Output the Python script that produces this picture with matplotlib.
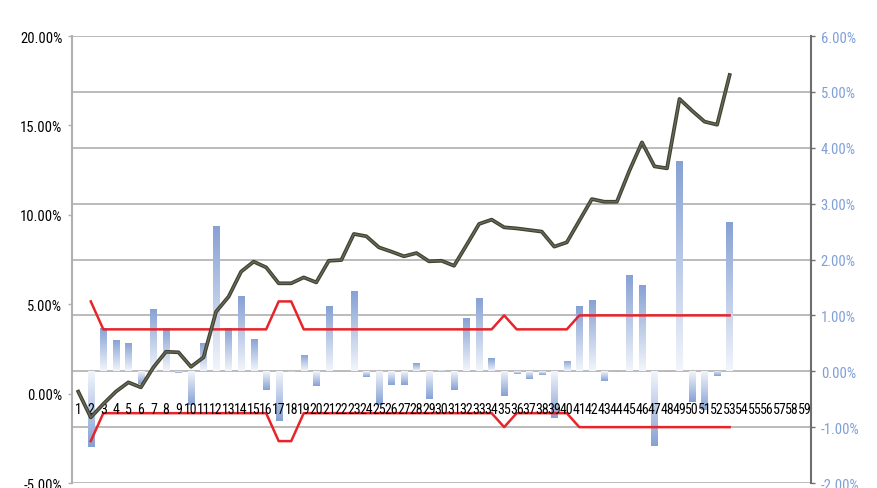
import numpy as np
import matplotlib
matplotlib.use("Agg")
import matplotlib.pyplot as plt
import matplotlib.patheffects as pe
from matplotlib.colors import LinearSegmentedColormap

plt.rcParams['font.family'] = ['Roboto Condensed', 'DejaVu Sans Condensed', 'Liberation Sans Narrow',
                               'Liberation Sans', 'DejaVu Sans']

# category labels on the x axis
categories = list(range(1, 60))

# cumulative line, left axis (%)
line_cats = list(range(1, 54))
line_vals = [0.11, -1.33, -0.58, 0.11, 0.63, 0.35, 1.47, 2.34, 2.31, 1.50,
             2.03, 4.58, 5.42, 6.82, 7.38, 7.06, 6.17, 6.17, 6.50, 6.22,
             7.43, 7.47, 8.93, 8.80, 8.18, 7.94, 7.68, 7.86, 7.40, 7.43,
             7.15, 8.31, 9.49, 9.73, 9.30, 9.24, 9.15, 9.06, 8.22, 8.46,
             9.67, 10.88, 10.73, 10.73, 12.47, 14.05, 12.71, 12.60, 16.48, 15.82,
             15.21, 15.04, 17.82]

# bars, right axis (%)
bar_cats = list(range(2, 54))
bar_vals = [-1.36, 0.77, 0.56, 0.51, -0.22, 1.11, 0.78, -0.03, -0.60,
            0.50, 2.60, 0.78, 1.34, 0.58, -0.33, -0.89, -0.01, 0.29, -0.26,
            1.16, 0.01, 1.43, -0.10, -0.61, -0.24, -0.24, 0.14, -0.49, 0.02,
            -0.33, 0.95, 1.31, 0.23, -0.45, -0.05, -0.14, -0.07, -0.83, 0.18,
            1.16, 1.28, -0.17, -0.02, 1.72, 1.54, -1.34, -0.02, 3.77, -0.55,
            -0.70, -0.09, 2.68]

# red band, right axis (%)
band_upper = [1.25, 0.75, 0.75, 0.75, 0.75, 0.75, 0.75, 0.75, 0.75, 0.75,
              0.75, 0.75, 0.75, 0.75, 0.75, 1.25, 1.25, 0.75, 0.75, 0.75,
              0.75, 0.75, 0.75, 0.75, 0.75, 0.75, 0.75, 0.75, 0.75, 0.75,
              0.75, 0.75, 0.75, 1.00, 0.75, 0.75, 0.75, 0.75, 0.75, 1.00,
              1.00, 1.00, 1.00, 1.00, 1.00, 1.00, 1.00, 1.00, 1.00, 1.00,
              1.00, 1.00]
band_lower = [-v for v in band_upper]

left_ticks = [-5, 0, 5, 10, 15, 20]
right_ticks = [-2, -1, 0, 1, 2, 3, 4, 5, 6]

fig = plt.figure(figsize=(8.77, 4.89), dpi=100)
ax = fig.add_axes([0.0821, 0.0102, 0.8427, 0.9141])
ax2 = ax.twinx()

# right axis: grid, bars, band
ax2.set_ylim(-2, 6)
ax2.set_yticks(right_ticks)
ax2.set_yticklabels([f"{t:.2f}%" for t in right_ticks])
ax2.yaxis.grid(True, color='#b5b5b5', lw=1.3)
ax2.set_axisbelow(True)

cmap = LinearSegmentedColormap.from_list('barfade', ['#f2f5fb', '#86a1d4'])
grad = np.linspace(0, 1, 100).reshape(-1, 1)
w = 0.5
for x, v in zip(bar_cats, bar_vals):
    rect = ax2.bar(x, v, width=w, color='none', edgecolor='none', zorder=2)[0]
    im = ax2.imshow(grad, cmap=cmap, extent=[x - w / 2, x + w / 2, 0, v],
                    origin='lower', aspect='auto', zorder=2, interpolation='bilinear')
    im.set_clip_path(rect)

ax2.plot(bar_cats, band_upper, color='#e8242a', lw=1.8, zorder=3)
ax2.plot(bar_cats, band_lower, color='#e8242a', lw=1.8, zorder=3)

# left axis: cumulative line
ax.set_zorder(ax2.get_zorder() + 1)
ax.patch.set_visible(False)
ax.plot(line_cats, line_vals, color='#6a6b56', lw=1.0, zorder=4,
        path_effects=[pe.Stroke(linewidth=2.7, foreground='#404133'), pe.Normal()])
ax.set_ylim(-5, 20)
ax.set_yticks(left_ticks)
ax.set_yticklabels([f"{t:.2f}%" for t in left_ticks])

ax.set_xlim(0.5, 59.5)
ax2.set_xlim(0.5, 59.5)
ax.set_xticks(categories)
ax.set_xticklabels([str(c) for c in categories], fontsize=6.5, color='#4a4a4a', fontweight='bold')
ax.spines['bottom'].set_position(('data', 0))
ax.spines['bottom'].set_visible(False)
ax.tick_params(axis='x', length=0, pad=6)

for a in (ax, ax2):
    a.spines['top'].set_visible(False)
ax2.spines['bottom'].set_visible(False)
ax2.spines['left'].set_visible(False)
ax.spines['right'].set_visible(False)
ax.spines['left'].set_color('#b0b0b0')
ax.spines['left'].set_linewidth(1.5)
ax2.spines['right'].set_color('#6e6e6e')
ax2.spines['right'].set_linewidth(1.5)

ax.tick_params(axis='y', length=3, width=1, color='#b0b0b0', pad=4, labelsize=10.5, labelcolor='black')
ax2.tick_params(axis='y', length=3, width=1, color='#6e6e6e', pad=4, labelsize=10.5, labelcolor='#7f9fd8')
ax2.tick_params(axis='x', bottom=False, labelbottom=False)

fig.savefig('out.png', dpi=100)
